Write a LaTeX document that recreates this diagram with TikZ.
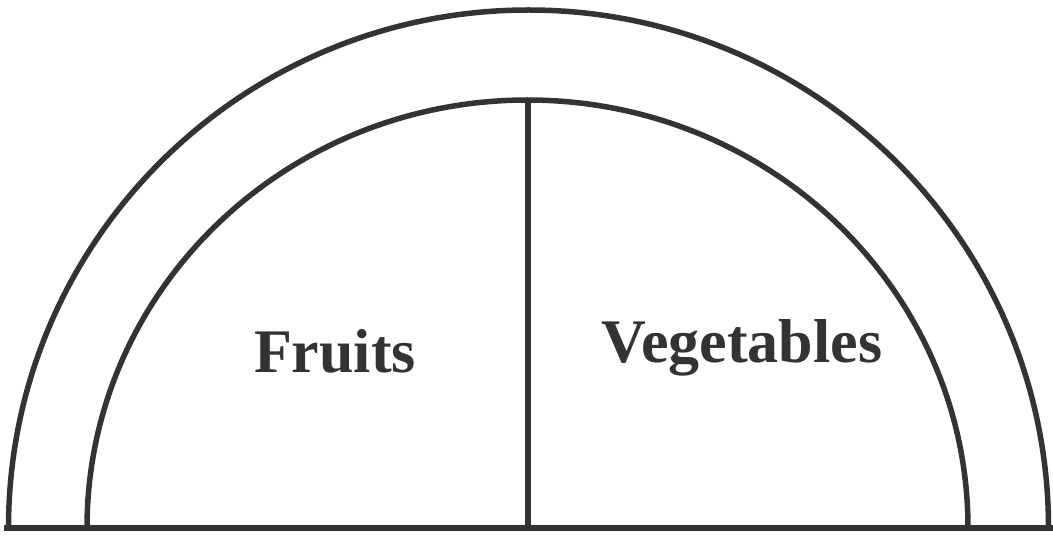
\documentclass[tikz,border=0pt]{standalone}
\usepackage{fontspec}
\setmainfont{Liberation Serif}
\usetikzlibrary{positioning}
\definecolor{inkgray}{HTML}{333333}

\begin{document}
\begin{tikzpicture}[x=1pt, y=1pt,
  rim/.style={draw=inkgray, line width=5.5pt},
  label/.style={font=\fontsize{62}{62}\selectfont\bfseries, text=inkgray, anchor=base, inner sep=0pt}
]
  \useasboundingbox (0,0) rectangle (1053,539);
  % base line and the two half rings
  \coordinate (bl) at (4,11);
  \coordinate (br) at (1053,11);
  \coordinate (mid) at (528,11);
  \coordinate (top) at (528,439);
  \draw[rim] (bl) -- (br);
  \draw[rim] (8.5,11) arc[start angle=180, end angle=0, x radius=520, y radius=518];
  \draw[rim] (87,11) arc[start angle=180, end angle=0, x radius=440.5, y radius=428];
  \draw[rim] (mid) -- (top);
  % labels
  \node[label] (fruits) at (335,167) {Fruits};
  \node[label] (veg) at (742,176) {Vegetables};
\end{tikzpicture}
\end{document}
